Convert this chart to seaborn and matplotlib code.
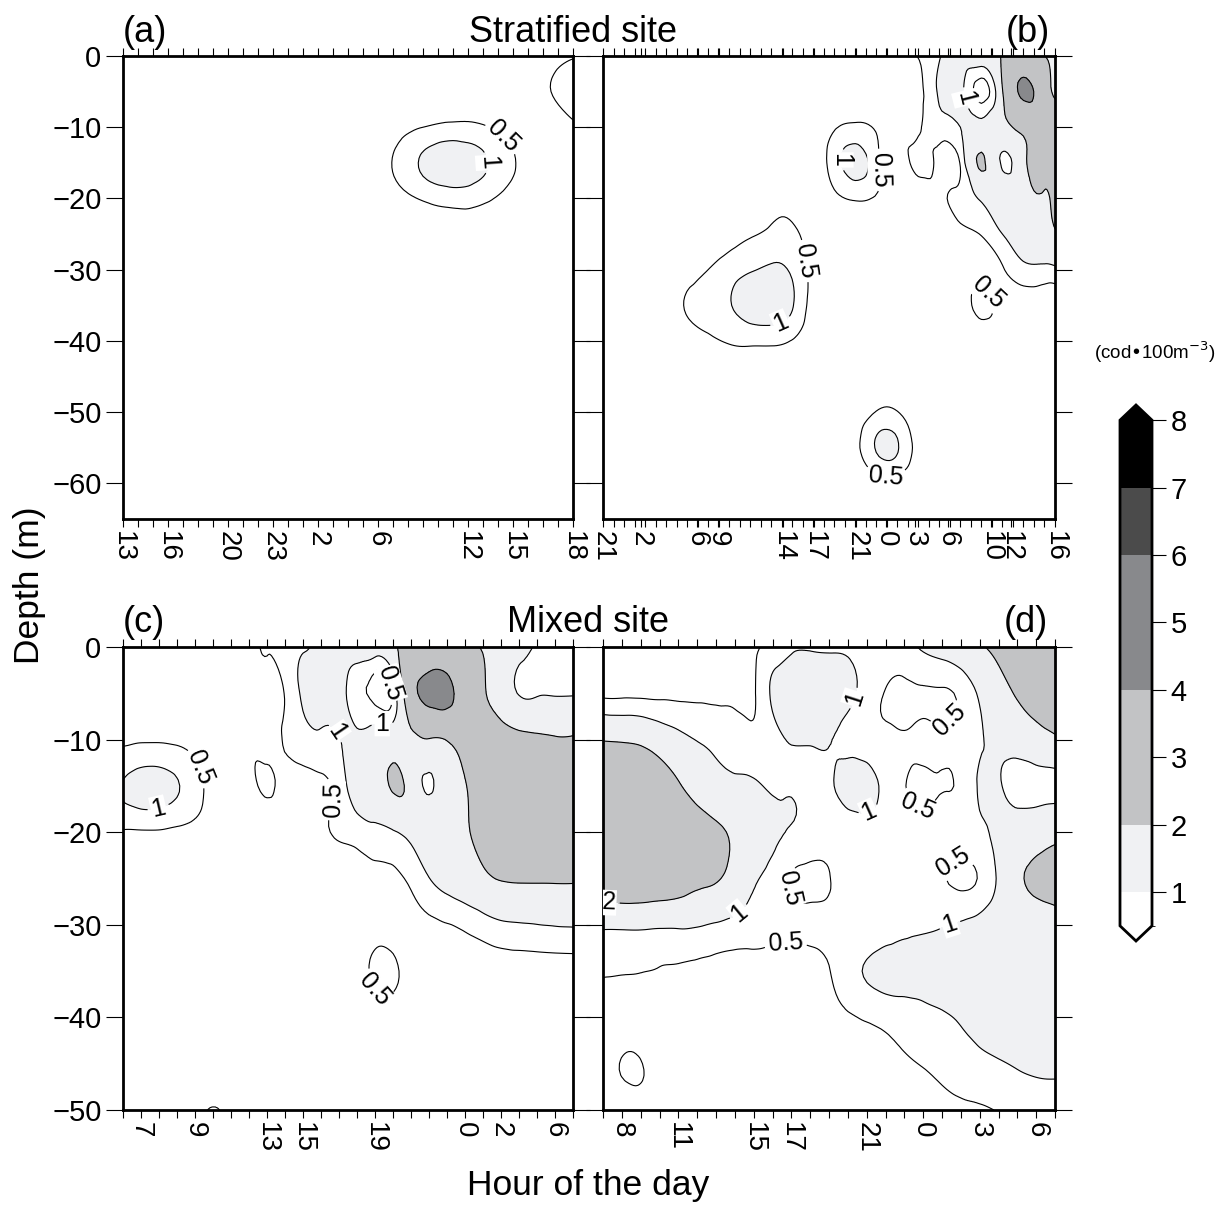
import numpy as np
import matplotlib
matplotlib.use("Agg")
import matplotlib.pyplot as plt
import matplotlib.tri as mtri
from matplotlib.colors import ListedColormap, BoundaryNorm
import seaborn as sns

# ---- colour scale (cod per 100 m3) ----
LEVELS = [0.5, 1, 2, 4, 6, 7, 8]
FILL_COLORS = ["#ffffff", "#f0f1f3", "#c2c3c5", "#88898c", "#4b4b4b", "#000000"]
LINE_LEVELS = [0.5, 1, 2, 4, 6, 7]
LABEL_LEVELS = [0.5, 1, 2]

# ---- depth rows ----
DEPTH_TOP = [0, -5, -10, -15, -20, -25, -30, -35, -40, -45, -50, -55, -60, -65]
DEPTH_BOT = [0, -5, -10, -15, -20, -25, -30, -35, -40, -45, -50]

# ---- (a) stratified site, first survey ----
A_COLS = [0, 2, 4, 6, 8, 10, 12, 14, 16, 18, 20, 22, 24, 26, 28, 30]
A_VALUES = [
    [.05, .05, .05, .05, .05, .05, .05, .05, .05, .10, .10, .15, .15, .15, .25, .45],
    [.05, .05, .05, .05, .05, .05, .05, .05, .10, .15, .25, .30, .25, .20, .40, .80],
    [.05, .05, .05, .05, .05, .05, .05, .05, .15, .30, .50, .62, .55, .30, .20, .40],
    [.05, .05, .05, .05, .05, .05, .05, .05, .20, .52, 1.1, 1.4, 1.1, .55, .20, .15],
    [.05, .05, .05, .05, .05, .05, .05, .05, .15, .30, .55, .70, .60, .30, .15, .10],
    [.05, .05, .05, .05, .05, .05, .05, .05, .10, .10, .20, .30, .25, .10, .05, .05],
    [.05, .05, .05, .05, .05, .05, .05, .05, .05, .05, .05, .10, .10, .05, .05, .05],
    [.05, .05, .05, .05, .05, .05, .05, .05, .05, .05, .05, .05, .05, .05, .05, .05],
    [.05, .05, .05, .05, .05, .05, .05, .05, .05, .05, .05, .05, .05, .05, .05, .05],
    [.05, .05, .05, .05, .05, .05, .05, .05, .05, .05, .05, .05, .05, .05, .05, .05],
    [.05, .05, .05, .05, .05, .05, .05, .05, .05, .05, .05, .05, .05, .05, .05, .05],
    [.05, .05, .05, .05, .05, .05, .05, .05, .05, .05, .05, .05, .05, .05, .05, .05],
    [.05, .05, .05, .05, .05, .05, .05, .05, .05, .05, .05, .05, .05, .05, .05, .05],
    [.05, .05, .05, .05, .05, .05, .05, .05, .05, .05, .05, .05, .05, .05, .05, .05],
]
A_XMAX = 30
A_TICKS = [0, 3, 7, 10, 13, 17, 23, 26, 30]
A_TICKLABELS = ["13", "16", "20", "23", "2", "6", "12", "15", "18"]
A_LABEL_AT = [(25.9, -10.1), (24.5, -14.9)]

# ---- (b) stratified site, second survey ----
B_COLS = [0, 2, 4, 6, 8, 10, 12, 14, 16, 18, 20, 22, 24, 26, 28, 30, 32, 34, 36, 38, 40, 42, 43]
B_VALUES = [
    [.05, .05, .05, .05, .05, .05, .05, .05, .10, .10, .10, .10, .10, .15, .30, .52, .95, 1.3, 1.6, 2.1, 2.4, 2.02, 1.8],
    [.05, .05, .05, .05, .05, .05, .05, .05, .10, .10, .10, .15, .15, .20, .30, .35, 1.1, 1.2, .30, 1.95, 4.3, 2.9, 1.9],
    [.05, .05, .05, .05, .05, .05, .05, .10, .10, .10, .15, .45, .60, .45, .30, .42, .80, 1.0, 1.3, 1.7, 2.3, 2.8, 2.6],
    [.05, .05, .05, .05, .05, .05, .10, .10, .15, .15, .25, .75, 1.25, .65, .20, .65, .30, .55, 2.1, .90, 1.8, 2.3, 2.4],
    [.05, .05, .05, .05, .05, .05, .10, .10, .30, .30, .20, .40, .55, .45, .20, .20, .35, .70, 1.1, 1.5, 1.8, 1.95, 2.3],
    [.05, .05, .05, .05, .10, .15, .30, .45, .60, .60, .30, .20, .10, .10, .10, .15, .20, .35, .52, 1.0, 1.4, 1.7, 1.9],
    [.05, .05, .05, .10, .30, .50, .75, .95, 1.1, .90, .35, .15, .10, .10, .10, .15, .20, .25, .30, .45, .85, .85, .88],
    [.05, .05, .05, .20, .55, .70, .95, 1.3, 1.4, 1.05, .30, .15, .10, .10, .10, .10, .15, .25, .62, .30, .15, .15, .15],
    [.05, .05, .05, .10, .25, .40, .55, .60, .60, .48, .20, .10, .10, .10, .10, .10, .10, .15, .20, .15, .10, .10, .10],
    [.05, .05, .05, .05, .10, .10, .15, .20, .20, .20, .10, .10, .10, .15, .15, .10, .05, .05, .05, .05, .05, .05, .05],
    [.05, .05, .05, .05, .05, .05, .05, .05, .05, .05, .05, .05, .20, .52, .52, .15, .05, .05, .05, .05, .05, .05, .05],
    [.05, .05, .05, .05, .05, .05, .05, .05, .05, .05, .05, .10, .35, 1.05, 1.05, .30, .10, .05, .05, .05, .05, .05, .05],
    [.05, .05, .05, .05, .05, .05, .05, .05, .05, .05, .05, .05, .15, .30, .30, .10, .05, .05, .05, .05, .05, .05, .05],
    [.05, .05, .05, .05, .05, .05, .05, .05, .05, .05, .05, .05, .05, .10, .10, .05, .05, .05, .05, .05, .05, .05, .05],
]
B_XMAX = 43
B_TICKS = [0, 3.6, 8.9, 10.9, 17.1, 20.1, 24.1, 26.9, 29.7, 32.8, 36.9, 38.8, 43]
B_TICKLABELS = ["21", "2", "6", "9", "14", "17", "21", "0", "3", "6", "10", "12", "16"]
B_LABEL_AT = [(34.5, -5.9), (22.1, -14.6), (26.4, -16.0), (18.8, -28.9),
              (16.9, -37.4), (36.4, -33.6), (26.9, -58.8)]

# ---- (c) mixed site, first survey ----
C_COLS = list(range(26))
C_VALUES = [
    [.15, .15, .15, .15, .20, .20, .30, .40, .52, .75, .95, 1.15, 1.3, 1.3, 1.4, 1.8, 2.2, 2.2, 2.2, 2.1, 1.95, 1.6, 1.2, .95, .85, .80],
    [.30, .30, .30, .30, .30, .25, .30, .35, .40, .52, 1.1, 1.2, 1.15, .70, .30, .60, 3.2, 4.5, 4.5, 3.0, 2.1, 1.5, .97, .95, .95, .95],
    [.42, .45, .45, .42, .35, .30, .30, .38, .35, .55, .80, .90, .98, 1.1, 1.3, 1.5, 1.7, 1.95, 2.05, 2.6, 2.7, 2.5, 2.3, 2.2, 2.1, 2.1],
    [1.05, 1.25, 1.25, 1.05, .70, .35, .25, .35, .56, .35, .30, .40, .70, 1.3, 1.5, 2.1, 1.6, .93, 1.5, 1.95, 2.6, 3.0, 3.1, 3.0, 2.9, 2.8],
    [.45, .45, .45, .40, .35, .25, .20, .20, .20, .25, .25, .40, .55, .70, .85, .95, 1.2, 1.5, 1.8, 1.95, 2.3, 2.6, 2.7, 2.6, 2.5, 2.5],
    [.15, .15, .15, .15, .15, .15, .15, .15, .15, .15, .20, .20, .25, .30, .35, .40, .60, .98, 1.3, 1.5, 1.8, 2.05, 2.1, 2.1, 2.1, 2.1],
    [.10, .10, .10, .10, .10, .10, .10, .10, .10, .10, .10, .15, .15, .20, .30, .30, .35, .42, .48, .60, .75, .90, .95, .99, 1.03, 1.05],
    [.10, .10, .10, .10, .10, .10, .10, .10, .10, .10, .10, .10, .15, .30, .60, .60, .30, .20, .25, .25, .28, .30, .30, .30, .30, .30],
    [.10, .10, .10, .10, .10, .10, .10, .10, .10, .10, .10, .10, .10, .15, .25, .25, .15, .15, .15, .15, .15, .15, .15, .15, .15, .15],
    [.10, .10, .10, .10, .10, .10, .10, .10, .10, .10, .10, .10, .10, .10, .10, .10, .10, .10, .10, .10, .10, .10, .10, .10, .10, .10],
    [.10, .10, .15, .20, .30, .55, .30, .15, .10, .10, .10, .10, .10, .10, .10, .10, .10, .10, .10, .10, .10, .10, .10, .10, .10, .10],
]
C_XMAX = 25
C_TICKS = [1, 4, 8, 10, 14, 19, 21, 24]
C_TICKLABELS = ["7", "9", "13", "15", "19", "0", "2", "6"]
C_LABEL_AT = [(14.6, -4.1), (14.4, -7.7), (11.9, -9.2), (4.7, -12.7),
              (1.9, -16.8), (11.9, -16.5), (14.3, -36.5)]

# ---- (d) mixed site, second survey ----
D_COLS = list(range(25))
D_VALUES = [
    [.30, .30, .30, .30, .30, .30, .30, .35, .40, .60, .85, .85, .85, .85, .75, .65, .75, 1.1, 1.3, 1.6, 1.9, 2.3, 2.8, 3.0, 3.0],
    [.40, .40, .40, .40, .40, .40, .40, .40, .45, 1.1, 1.5, 1.9, 1.6, 1.2, .75, .48, .40, .45, .45, .60, 1.1, 1.6, 2.1, 2.4, 2.6],
    [1.95, 1.9, 1.8, 1.5, 1.2, .98, .85, .70, .60, .75, 1.05, 1.1, 1.05, .80, .65, .60, .55, .60, .55, .70, .95, 1.15, 1.3, 1.6, 1.85],
    [3.0, 3.2, 3.0, 2.6, 2.1, 1.6, 1.3, 1.15, 1.1, .90, .95, .80, .90, 1.25, 1.3, .80, .52, .40, .48, .60, 1.05, 1.05, .85, .80, .80],
    [3.3, 3.4, 3.3, 3.1, 2.8, 2.5, 2.2, 1.8, 1.4, 1.15, .95, .80, .70, .70, .70, .70, .70, .70, .70, .75, .90, 1.1, 1.3, 1.5, 1.7],
    [2.8, 2.9, 2.9, 2.8, 2.6, 2.3, 2.1, 1.6, 1.1, .80, .48, .40, .48, .70, .75, .75, .75, .70, .55, .40, .55, 1.1, 1.8, 2.2, 2.4],
    [1.15, 1.15, 1.15, 1.1, 1.1, 1.05, .95, .85, .75, .65, .60, .60, .60, .60, .65, .75, .85, .90, .97, 1.05, 1.15, 1.3, 1.4, 1.5, 1.6],
    [.52, .52, .51, .48, .45, .40, .35, .30, .30, .30, .30, .35, .48, .80, 1.05, 1.2, 1.2, 1.2, 1.2, 1.2, 1.2, 1.2, 1.2, 1.2, 1.2],
    [.25, .20, .20, .25, .25, .25, .25, .25, .25, .25, .25, .30, .38, .45, .55, .65, .75, .85, .95, 1.05, 1.2, 1.3, 1.3, 1.3, 1.3],
    [.25, .53, .53, .25, .25, .25, .25, .25, .25, .25, .25, .25, .25, .30, .30, .35, .45, .52, .62, .72, .85, .95, 1.05, 1.1, 1.1],
    [.20, .15, .15, .20, .20, .20, .20, .20, .20, .20, .20, .20, .20, .20, .25, .25, .30, .35, .40, .45, .45, .52, .65, .75, .80],
]
D_XMAX = 24
D_TICKS = [1, 4, 8, 10, 14, 17, 20, 23]
D_TICKLABELS = ["8", "11", "15", "17", "21", "0", "3", "6"]
D_LABEL_AT = [(13.6, -5.7), (18.2, -7.7), (14.0, -17.2), (16.7, -17.2), (0.3, -28.0),
              (18.7, -23.4), (10.2, -26.0), (7.5, -29.3), (9.7, -31.6), (18.4, -29.9)]

sns.set_style("ticks")
plt.rcParams["font.family"] = ["Liberation Sans", "DejaVu Sans"]
plt.rcParams.update({"text.color": "black", "axes.labelcolor": "black",
                     "xtick.color": "black", "ytick.color": "black",
                     "axes.edgecolor": "black"})

CMAP = ListedColormap(FILL_COLORS).with_extremes(under="#ffffff", over="#000000")
NORM = BoundaryNorm(LEVELS, CMAP.N)


def _smooth_field(cols, depths, values):
    nx, ny = len(cols), len(depths)
    z = np.asarray(values, dtype=float).ravel()
    ii, jj = np.meshgrid(np.arange(nx, dtype=float), np.arange(ny, dtype=float))
    idx = np.arange(nx * ny).reshape(ny, nx)
    a = idx[:-1, :-1].ravel(); b = idx[:-1, 1:].ravel()
    c = idx[1:, 1:].ravel(); d = idx[1:, :-1].ravel()
    tris = np.concatenate([np.stack([a, b, c], 1), np.stack([a, c, d], 1)])
    tri = mtri.Triangulation(ii.ravel(), jj.ravel(), tris)
    fine, zf = mtri.UniformTriRefiner(tri).refine_field(z, subdiv=3)
    fx = np.interp(fine.x, np.arange(nx), cols)
    fy = np.interp(fine.y, np.arange(ny), depths)
    return mtri.Triangulation(fx, fy, fine.triangles), zf


def _panel(ax, cols, depths, values, xmax, ticks, ticklabels, label_at, left_labels):
    tri, zf = _smooth_field(cols, depths, values)
    cf = ax.tricontourf(tri, zf, levels=LEVELS, cmap=CMAP, norm=NORM, extend="both")
    cl = ax.tricontour(tri, zf, levels=LINE_LEVELS, colors="black", linewidths=0.8)
    texts = ax.clabel(cl, levels=LABEL_LEVELS, manual=label_at, inline=True,
                      inline_spacing=4, fontsize=18, fmt=lambda v: f"{v:g}")
    for t in texts:
        t.set_bbox(dict(facecolor="white", edgecolor="none", pad=0.5))

    ylow = depths[-1]
    ax.set_xlim(0, xmax)
    ax.set_ylim(ylow, 0)
    ax.set_xticks(ticks)
    ax.set_xticklabels(ticklabels, rotation=-90, fontsize=20)
    ax.set_xticks(np.arange(0, xmax + 1), minor=True)
    ax.set_yticks(np.arange(0, ylow - 1, -10))
    ax.tick_params(axis="x", which="both", direction="out", top=True,
                   length=6, width=0.8, pad=3)
    ax.tick_params(axis="y", direction="out", right=True, length=12,
                   width=0.8, labelsize=21, labelleft=left_labels)
    for s in ax.spines.values():
        s.set_linewidth(2)
        s.set_visible(True)
    return cf


fig = plt.figure(figsize=(12.25, 12.16), dpi=100)
W, H = 1225.0, 1216.0


def _axes(x0, y0, x1, y1):
    return fig.add_axes([x0 / W, 1 - y1 / H, (x1 - x0) / W, (y1 - y0) / H])


ax_a = _axes(123, 56, 573, 519)
ax_b = _axes(603, 56, 1055, 519)
ax_c = _axes(123, 647, 573, 1110)
ax_d = _axes(603, 647, 1055, 1110)

cf = _panel(ax_a, A_COLS, DEPTH_TOP, A_VALUES, A_XMAX, A_TICKS, A_TICKLABELS, A_LABEL_AT, True)
_panel(ax_b, B_COLS, DEPTH_TOP, B_VALUES, B_XMAX, B_TICKS, B_TICKLABELS, B_LABEL_AT, False)
_panel(ax_c, C_COLS, DEPTH_BOT, C_VALUES, C_XMAX, C_TICKS, C_TICKLABELS, C_LABEL_AT, True)
_panel(ax_d, D_COLS, DEPTH_BOT, D_VALUES, D_XMAX, D_TICKS, D_TICKLABELS, D_LABEL_AT, False)

# colour bar
cax = _axes(1120, 405, 1152, 941)
cb = fig.colorbar(cf, cax=cax, ticks=range(1, 9), spacing="proportional", extendfrac=0.03)
cb.outline.set_linewidth(2)
cb.ax.tick_params(direction="out", length=10, width=0.8, labelsize=21)
fig.text(1155 / W, 1 - 352 / H, "(cod\u2022100m$^{-3}$)", ha="center", va="center", fontsize=13.5)

# panel titles and axis titles
fig.text(123 / W, 1 - 32 / H, "(a)", ha="left", va="center", fontsize=26)
fig.text(573 / W, 1 - 32 / H, "Stratified site", ha="center", va="center", fontsize=26)
fig.text(1050 / W, 1 - 32 / H, "(b)", ha="right", va="center", fontsize=26)
fig.text(123 / W, 1 - 622 / H, "(c)", ha="left", va="center", fontsize=26)
fig.text(588 / W, 1 - 622 / H, "Mixed site", ha="center", va="center", fontsize=26)
fig.text(1048 / W, 1 - 622 / H, "(d)", ha="right", va="center", fontsize=26)
fig.text(30 / W, 1 - 585 / H, "Depth (m)", rotation=90, ha="center", va="center", fontsize=25.5)
fig.text(588 / W, 1 - 1185 / H, "Hour of the day", ha="center", va="center", fontsize=25.5)

fig.savefig("out.png", dpi=100)
